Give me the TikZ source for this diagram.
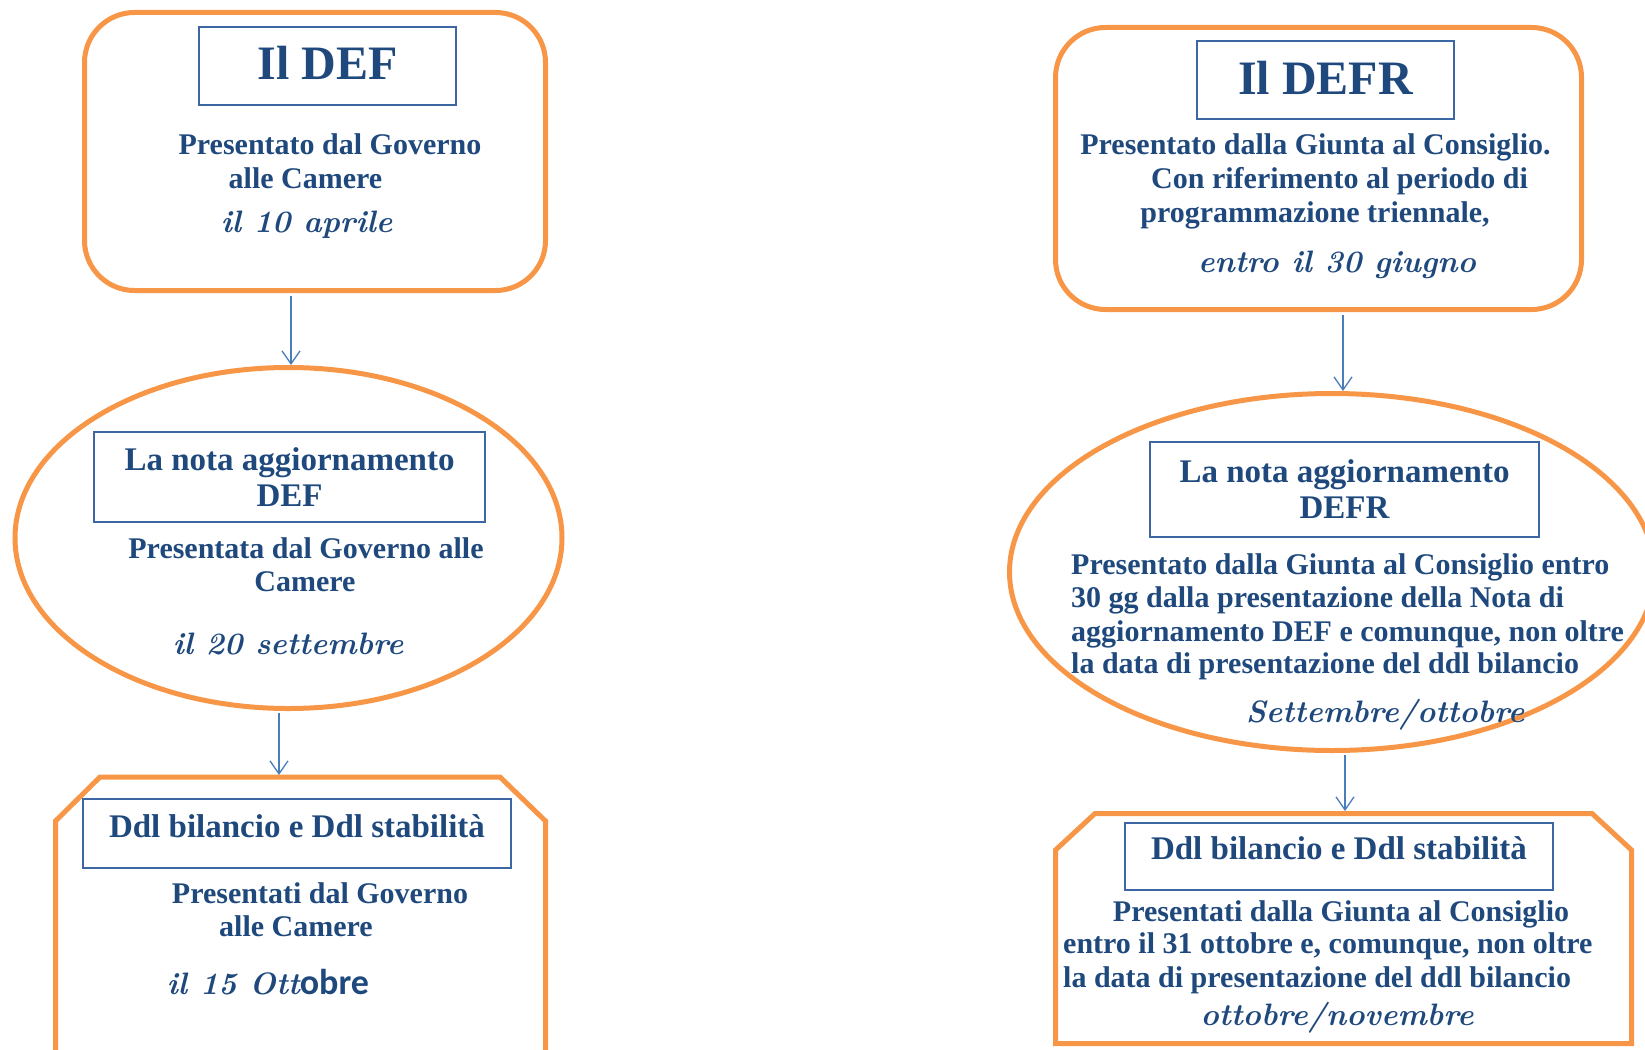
\documentclass[tikz,border=0pt]{standalone}
\usepackage{fontspec}
\setmainfont{Liberation Serif}
\newfontfamily\carlito{Carlito}
\usetikzlibrary{arrows.meta,shapes.geometric}

\definecolor{blu}{HTML}{1F497D}
\definecolor{arancio}{HTML}{F79646}
\definecolor{cornice}{HTML}{3C67A3}
\definecolor{azzurro}{HTML}{4A7EBB}

\tikzset{
	contorno/.style={draw=arancio, line width=5pt, inner sep=0pt},
	riquadro/.style={draw=cornice, line width=1.5pt, text=blu, align=center, inner sep=0pt, font=\fontsize{33}{36}\selectfont\bfseries},
	scritta/.style={text=blu, inner sep=0pt, font=\fontsize{30}{33}\selectfont\bfseries},
	giorno/.style={text=blu, inner sep=0pt, font=\fontfamily{lmr}\fontseries{bx}\fontsize{31}{36}\selectfont\itshape},
	freccia/.style={draw=azzurro, line width=1.3pt, -{Straight Barb[length=13pt,width=18pt]}}
}

\begin{document}
\begin{tikzpicture}[x=1pt,y=-1pt]
	\useasboundingbox (0,0) rectangle (1645,1049);
	\clip (0,0) rectangle (1645,1049);

	% colonna del DEF
	\node[contorno, rounded corners=50pt, minimum width=461pt, minimum height=278pt] (def) at (315,151.5) {};
	\node[riquadro, font=\fontsize{48}{50}\selectfont\bfseries, minimum width=257pt, minimum height=78pt, text height=32pt, text depth=6pt] (deftit) at (327.5,66) {Il DEF};
	\node[scritta, anchor=base] (def1) at (330,154) {Presentato dal Governo};
	\node[scritta, anchor=base] (def2) at (305.5,188) {alle Camere};
	\node[giorno, anchor=base] (defdata) at (306.5,232) {il 10 aprile};

	\node[contorno, ellipse, minimum width=547pt, minimum height=341pt] (notadef) at (288.5,538) {};
	\node[riquadro, minimum width=391pt, minimum height=90pt] (notadeftit) at (289.5,477) {La nota aggiornamento\\DEF};
	\node[scritta, anchor=base] (notadef1) at (306,558.5) {Presentata dal Governo alle};
	\node[scritta, anchor=base] (notadef2) at (305,591.5) {Camere};
	\node[giorno, anchor=base] (notadefdata) at (288,654) {il 20 settembre};

	\draw[contorno] (55.5,1075) -- (55.5,821) -- (100,777) -- (500,777) -- (545.5,821) -- (545.5,1075);
	\coordinate (ddl) at (279,775);
	\node[riquadro, minimum width=428pt, minimum height=69pt, text height=23pt, text depth=16pt] (ddltit) at (297,833.5) {Ddl bilancio e Ddl stabilità};
	\node[scritta, anchor=base] (ddl1) at (320,903) {Presentati dal Governo};
	\node[scritta, anchor=base] (ddl2) at (296,936) {alle Camere};
	\node[giorno, anchor=base] (ddldata) at (268,994) {il 15 Ott{\carlito\bfseries\upshape\fontsize{36}{40}\selectfont obre}};

	\draw[freccia] ([xshift=-24pt,yshift=-2.5pt]def.south) -- ([xshift=-24pt]def.south |- notadef.north);
	\draw[freccia] ([yshift=-2pt]notadef.south -| ddl) -- (ddl);

	% colonna del DEFR
	\node[contorno, rounded corners=50pt, minimum width=526pt, minimum height=282pt] (defr) at (1318.5,168.5) {};
	\node[riquadro, font=\fontsize{48}{50}\selectfont\bfseries, minimum width=257pt, minimum height=78pt, text height=32pt, text depth=4pt] (defrtit) at (1325.5,80) {Il DEFR};
	\node[scritta, anchor=base] (defr1) at (1315.5,154) {Presentato dalla Giunta al Consiglio.};
	\node[scritta, anchor=base] (defr2) at (1339.5,188) {Con riferimento al periodo di};
	\node[scritta, anchor=base] (defr3) at (1315,222) {programmazione triennale,};
	\node[giorno, anchor=base] (defrdata) at (1337,272) {entro il 30 giugno};

	\node[contorno, ellipse, minimum width=645pt, minimum height=357pt] (notadefr) at (1332,572) {};
	\node[riquadro, minimum width=389pt, minimum height=95pt] (notadefrtit) at (1344.5,489.5) {La nota aggiornamento\\DEFR};
	\node[scritta, anchor=base west] (notadefr1) at (1071,574.5) {Presentato dalla Giunta al Consiglio entro};
	\node[scritta, anchor=base west] (notadefr2) at (1071,607.5) {30 gg dalla presentazione della Nota di};
	\node[scritta, anchor=base west] (notadefr3) at (1071,641.5) {aggiornamento DEF e comunque, non oltre};
	\node[scritta, anchor=base west] (notadefr4) at (1071,673.5) {la data di presentazione del ddl bilancio};
	\node[giorno, anchor=base] (notadefrdata) at (1385,722) {Settembre/ottobre};

	\draw[contorno] (1055.5,1043.5) -- (1055.5,850) -- (1095,813.5) -- (1592,813.5) -- (1631.5,850) -- (1631.5,1043.5) -- cycle;
	\coordinate (ddlr) at (1345,811);
	\node[riquadro, minimum width=428pt, minimum height=67pt, text height=23pt, text depth=18pt] (ddlrtit) at (1339,856.5) {Ddl bilancio e Ddl stabilità};
	\node[scritta, anchor=base] (ddlr1) at (1341,921.5) {Presentati dalla Giunta al Consiglio};
	\node[scritta, anchor=base west] (ddlr2) at (1063,953.5) {entro il 31 ottobre e, comunque, non oltre};
	\node[scritta, anchor=base west] (ddlr3) at (1063,987.5) {la data di presentazione del ddl bilancio};
	\node[giorno, anchor=base] (ddlrdata) at (1337,1025) {ottobre/novembre};

	\draw[freccia] ([xshift=24.5pt,yshift=-2.5pt]defr.south) -- ([xshift=24.5pt]defr.south |- notadefr.north);
	\draw[freccia] ([yshift=-2pt]notadefr.south -| ddlr) -- (ddlr);
\end{tikzpicture}
\end{document}
